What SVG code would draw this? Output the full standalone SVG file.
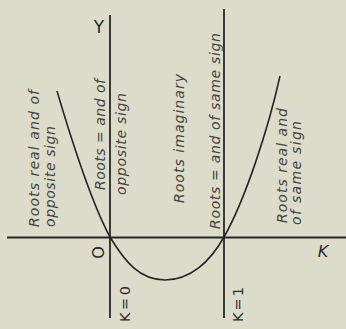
<svg xmlns="http://www.w3.org/2000/svg" width="346" height="329" viewBox="0 0 346 329">
<style>
.ax{stroke:#262626;stroke-width:1.8;fill:none}
.cv{stroke:#262626;stroke-width:1.6;fill:none}
.lab{font-family:"DejaVu Sans",sans-serif;font-style:oblique;font-size:14px;fill:#444440}
.ax-lab{font-family:"DejaVu Sans",sans-serif;fill:#2a2a2a}
</style>
<rect width="346" height="329" fill="#dddccb"/>
<g id="connectors">
<line class="ax" x1="7" y1="237.5" x2="346" y2="237.5"/>
<line class="ax" x1="110" y1="15" x2="110" y2="318"/>
<line class="ax" x1="224" y1="9" x2="224" y2="318"/>
<path class="cv" d="M57,91 C70,135 90,200 110,237 C125,262 140,280 165,280 C190,280 210,262 224,237 C245,200 268,130 280,76"/>
</g>
<g id="region-1">
<text class="lab" transform="translate(39,227) rotate(-90)" textLength="137" lengthAdjust="spacing">Roots real and of</text>
<text class="lab" transform="translate(55,227) rotate(-90)" textLength="101" lengthAdjust="spacing">opposite sign</text>
</g>
<g id="region-2">
<text class="lab" transform="translate(105,190) rotate(-90)" textLength="111" lengthAdjust="spacing">Roots = and of</text>
<text class="lab" transform="translate(126,195) rotate(-90)" textLength="102" lengthAdjust="spacing">opposite sign</text>
</g>
<g id="region-3">
<text class="lab" transform="translate(184,203) rotate(-90)" textLength="129" lengthAdjust="spacing">Roots imaginary</text>
</g>
<g id="region-4">
<text class="lab" transform="translate(220,229) rotate(-90)" textLength="196" lengthAdjust="spacing">Roots = and of same sign</text>
</g>
<g id="region-5">
<text class="lab" transform="translate(287,223) rotate(-90)" textLength="115" lengthAdjust="spacing">Roots real and</text>
<text class="lab" transform="translate(301,225) rotate(-90)" textLength="104" lengthAdjust="spacing">of same sign</text>
</g>
<g id="label-Y"><text class="ax-lab" x="99" y="33" font-size="17" text-anchor="middle">Y</text></g>
<g id="label-O"><text class="ax-lab" transform="translate(104,252.5) rotate(-90)" font-size="16" text-anchor="middle">O</text></g>
<g id="label-K"><text class="ax-lab" x="323" y="257" font-size="16" font-style="oblique" text-anchor="middle">K</text></g>
<g id="label-K0"><text class="ax-lab" transform="translate(130,322) rotate(-90)" font-size="14.5" textLength="36" lengthAdjust="spacing">K=0</text></g>
<g id="label-K1"><text class="ax-lab" transform="translate(243,322) rotate(-90)" font-size="14.5" textLength="35" lengthAdjust="spacing">K=1</text></g>
</svg>
